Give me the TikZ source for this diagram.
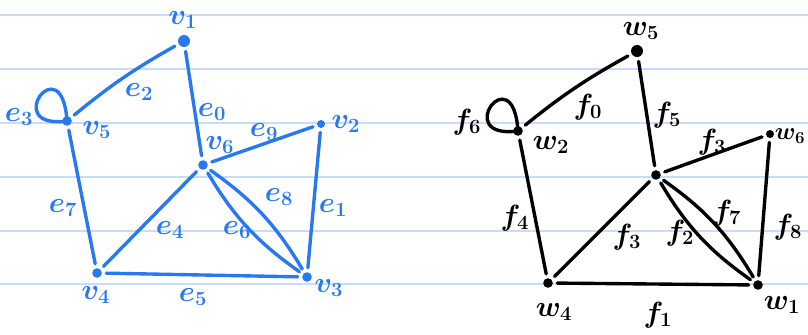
\documentclass[tikz,border=0pt]{standalone}
\usepackage{amsmath}
\definecolor{penblue}{RGB}{40,120,240}
\definecolor{ruleblue}{RGB}{200,220,246}

\begin{document}
\begin{tikzpicture}[x=0.025cm, y=-0.025cm, line join=round, line cap=round,
	dot/.style={circle, fill, inner sep=0pt, minimum size=0.24cm},
	lab/.style={font=\huge\boldmath, inner sep=0pt},
	link/.style={line width=2.4pt, shorten <=3pt, shorten >=3pt},
	selfloop/.style={line width=2.4pt}]
	\useasboundingbox (0,0) rectangle (808,335);
	% notebook lines
	\foreach \y in {15,69,123,177,231,284}
		\draw[ruleblue, line width=1.4pt] (0,\y) -- (808,\y);
	% left graph
	\begin{scope}[penblue]
		\node[dot, minimum size=0.3cm] (v1) at (184,41) {};
		\node[dot] (v5) at (67,121) {};
		\node[dot, minimum size=0.2cm] (v2) at (321,124) {};
		\node[dot] (v6) at (203,165) {};
		\node[dot] (v4) at (97,273) {};
		\node[dot] (v3) at (307,277) {};
		\node[lab] (lv1) at (183,20) {$v_1$};
		\node[lab] (lv5) at (97,130) {$v_5$};
		\node[lab] (lv2) at (346,124) {$v_2$};
		\node[lab] (lv6) at (220,145) {$v_6$};
		\node[lab] (lv4) at (96,295) {$v_4$};
		\node[lab] (lv3) at (329,288) {$v_3$};
		\draw[link] (v1) -- (v6);
		\draw[link] (v2) -- (v3);
		\draw[link] (v5) to[bend left=5] (v1);
		\draw[selfloop] (v5.center) .. controls +(-5,-76) and +(-67,9) .. (v5.center);
		\draw[link] (v6) -- (v4);
		\draw[link] (v4) -- (v3);
		\draw[link] (v6) to[bend right=12] (v3);
		\draw[link] (v6) to[bend left=12] (v3);
		\draw[link] (v5) -- (v4);
		\draw[link] (v6) -- (v2);
		\node[lab] (le0) at (212,112) {$e_0$};
		\node[lab] (le1) at (333,208) {$e_1$};
		\node[lab] (le2) at (139,92) {$e_2$};
		\node[lab] (le3) at (19,117) {$e_3$};
		\node[lab] (le4) at (170,230) {$e_4$};
		\node[lab] (le5) at (193,297) {$e_5$};
		\node[lab] (le6) at (237,230) {$e_6$};
		\node[lab] (le7) at (63,208) {$e_7$};
		\node[lab] (le8) at (279,197) {$e_8$};
		\node[lab] (le9) at (264,132) {$e_9$};
	\end{scope}
	% right graph
	\begin{scope}[black]
		\node[dot, minimum size=0.3cm] (w5) at (637,51) {};
		\node[dot] (w2) at (518,131) {};
		\node[dot, minimum size=0.2cm] (w6) at (770,134) {};
		\node[dot] (w3) at (656,175) {};
		\node[dot] (w4) at (548,283) {};
		\node[dot] (w1) at (758,285) {};
		\node[lab] (lw5) at (641,31) {$w_5$};
		\node[lab] (lw2) at (551,145) {$w_2$};
		\node[lab, font=\LARGE\boldmath] (lw6) at (790,136) {$w_6$};
		\node[lab] (lw4) at (554,312) {$w_4$};
		\node[lab] (lw1) at (782,305) {$w_1$};
		\draw[link] (w2) to[bend left=5] (w5);
		\draw[selfloop] (w2.center) .. controls +(-5,-76) and +(-67,9) .. (w2.center);
		\draw[link] (w5) -- (w3);
		\draw[link] (w3) -- (w6);
		\draw[link] (w6) -- (w1);
		\draw[link] (w4) -- (w1);
		\draw[link] (w3) -- (w4);
		\draw[link] (w3) to[bend right=12] (w1);
		\draw[link] (w3) to[bend left=12] (w1);
		\draw[link] (w2) -- (w4);
		\node[lab] (lf0) at (588,107) {$f_0$};
		\node[lab] (lf1) at (658,315) {$f_1$};
		\node[lab] (lf2) at (680,233) {$f_2$};
		\node[lab] (lf3a) at (712,142) {$f_3$};
		\node[lab] (lf3b) at (627,237) {$f_3$};
		\node[lab] (lf4) at (515,218) {$f_4$};
		\node[lab] (lf5) at (667,115) {$f_5$};
		\node[lab] (lf6) at (467,122) {$f_6$};
		\node[lab] (lf7) at (727,213) {$f_7$};
		\node[lab] (lf8) at (788,227) {$f_8$};
	\end{scope}
\end{tikzpicture}
\end{document}
